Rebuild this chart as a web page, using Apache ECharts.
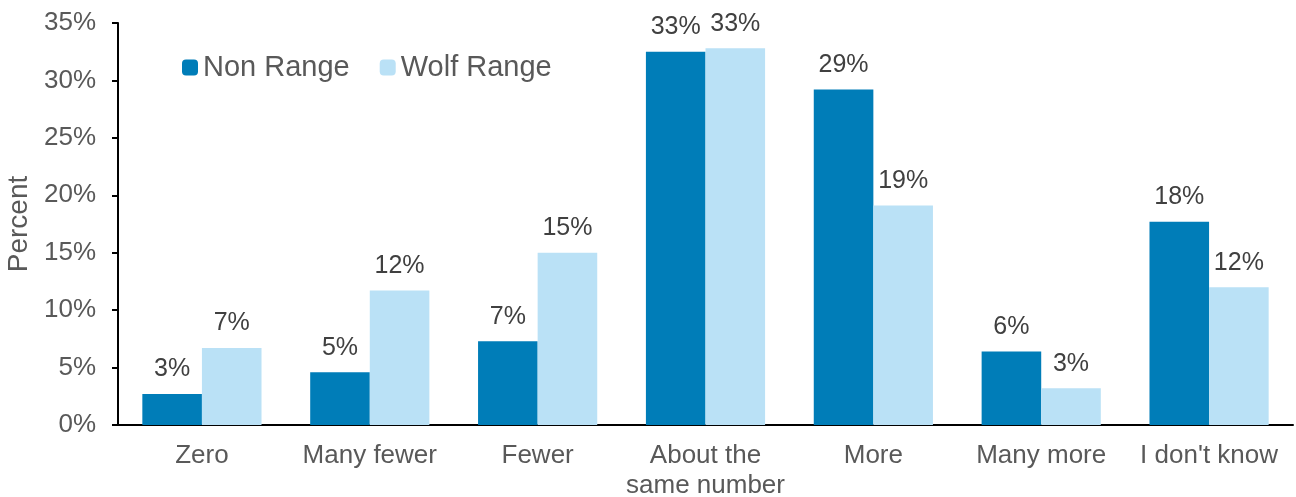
<!DOCTYPE html>
<html>
<head>
<meta charset="utf-8">
<script src="https://cdn.jsdelivr.net/npm/echarts@6/dist/echarts.min.js"></script>
<style>
  html, body { margin: 0; padding: 0; background: #fff; }
  #chart { width: 1296px; height: 497px; }
</style>
</head>
<body>
<div id="chart"></div>
<script>
const categories = ['Zero', 'Many fewer', 'Fewer', 'About the\nsame number', 'More', 'Many more', "I don't know"]
const nonRange = [2.7, 4.6, 7.3, 32.5, 29.2, 6.4, 17.7]
const wolfRange = [6.7, 11.7, 15.0, 32.8, 19.1, 3.2, 12.0]

const font = 'Liberation Sans, Arial, sans-serif'
const chart = echarts.init(document.getElementById('chart'))

const labelOpt = {
  show: true,
  position: 'top',
  distance: 12,
  color: '#404040',
  fontSize: 25,
  fontFamily: font,
  formatter: p => Math.round(p.value) + '%'
}

chart.setOption({
  animation: false,
  grid: { left: 118, right: 3, top: 23, bottom: 72, outerBoundsMode: 'none', containLabel: false },
  legend: {
    left: 177,
    top: 48,
    itemWidth: 16,
    itemHeight: 16,
    itemGap: 30,
    textStyle: { color: '#595959', fontSize: 29, fontFamily: font },
    data: ['Non Range', 'Wolf Range']
  },
  xAxis: {
    type: 'category',
    data: categories,
    axisLine: { lineStyle: { color: '#000', width: 2 } },
    axisTick: { show: false },
    axisLabel: { color: '#595959', fontSize: 26, fontFamily: font, margin: 16, lineHeight: 30, interval: 0 }
  },
  yAxis: {
    type: 'value',
    min: 0,
    max: 35,
    interval: 5,
    name: 'Percent',
    nameLocation: 'middle',
    nameGap: 83,
    nameTextStyle: { color: '#595959', fontSize: 28, fontFamily: font },
    splitLine: { show: false },
    axisLine: { show: true, lineStyle: { color: '#000', width: 2 } },
    axisTick: { show: true, length: 6, lineStyle: { color: '#000', width: 2 } },
    axisLabel: { color: '#595959', fontSize: 26, fontFamily: font, margin: 22, formatter: '{value}%' }
  },
  series: [
    {
      name: 'Non Range',
      type: 'bar',
      data: nonRange,
      itemStyle: { color: '#007DB8' },
      barGap: '0%',
      barCategoryGap: '29%',
      label: labelOpt
    },
    {
      name: 'Wolf Range',
      type: 'bar',
      data: wolfRange,
      itemStyle: { color: '#BAE1F6' },
      label: labelOpt
    }
  ]
})
</script>
</body>
</html>
